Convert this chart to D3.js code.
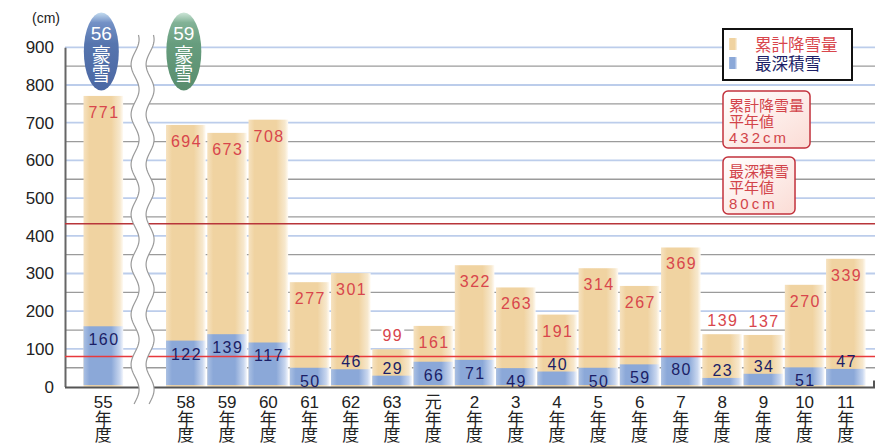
<!DOCTYPE html>
<html lang="ja">
<head>
<meta charset="utf-8">
<script src="https://cdn.jsdelivr.net/npm/d3@7"></script>
<style>
  body { margin: 0; background: #fff; }
  svg { display: block; font-family: "Liberation Sans", Arial, "Noto Sans CJK JP", sans-serif; }
</style>
</head>
<body>
<main></main>
<script>
// fiscal years (昭和55..63, 平成元..11), 56/57 are cut by the axis break
const years = ["55", "58", "59", "60", "61", "62", "63", "元", "2", "3", "4", "5", "6", "7", "8", "9", "10", "11"]
const totalSnow = [771, 694, 673, 708, 277, 301, 99, 161, 322, 263, 191, 314, 267, 369, 139, 137, 270, 339]
const deepestSnow = [160, 122, 139, 117, 50, 46, 29, 66, 71, 49, 40, 50, 59, 80, 23, 34, 51, 47]
const yTicks = [0, 100, 200, 300, 400, 500, 600, 700, 800, 900]
const gapKey = "break"
const slots = [years[0], gapKey, ...years.slice(1)]

const badgeYears = ["55", "58"]
const badgeNames = ["56", "59"]
const badgeFills = ["url(#badgeBlue)", "url(#badgeGreen)"]

const averages = [432, 80]
const avgNames = ["累計降雪量", "最深積雪"]

const red = '#d8464c'
const navy = '#1b1e66'

const width = 886, height = 443
const svg = d3.select('main').append('svg')
  .attr('width', width)
  .attr('height', height)

const x = d3.scaleBand().domain(slots).range([79.4, 869.8]).paddingInner(0.04).paddingOuter(0.1)
const y = d3.scaleLinear().domain([0, 900]).range([386.6, 47.3])
const bw = x.bandwidth()

// gradients
const defs = svg.append('defs')
function gradient(id, stops, x2, y2) {
  const g = defs.append('linearGradient').attr('id', id)
    .attr('x1', 0).attr('y1', 0).attr('x2', x2).attr('y2', y2)
  stops.forEach(s => g.append('stop').attr('offset', s[0]).attr('stop-color', s[1]))
}
gradient('tan', [[0, '#f6e2c0'], [0.15, '#f0d3a1'], [0.7, '#f0d3a1'], [0.92, '#f7e8cd'], [1, '#fffbf4']], 1, 0)
gradient('blue', [[0, '#aac0e3'], [0.15, '#8ba8d8'], [0.7, '#8ba8d8'], [0.92, '#c9d7ef'], [1, '#f3f6fc']], 1, 0)
gradient('badgeBlue', [[0, '#c4dcf0'], [0.13, '#7391c6'], [0.4, '#5675ae'], [1, '#4b67a3']], 0, 1)
gradient('badgeGreen', [[0, '#cde6d8'], [0.13, '#82b296'], [0.4, '#679d7e'], [1, '#588d6d']], 0, 1)
gradient('note', [[0, '#ffffff'], [1, '#fbdcd5']], 1, 1)

// grid: blue every 100, gray in between
svg.append('g')
  .selectAll('line')
  .data(d3.range(50, 901, 50))
  .join('line')
  .attr('x1', 65).attr('x2', 875)
  .attr('y1', d => y(d)).attr('y2', d => y(d))
  .attr('stroke', d => d % 100 ? '#9b9b9b' : '#bccdeb')
  .attr('stroke-width', d => d % 100 ? 1.3 : 1.8)

// y axis
svg.append('g')
  .attr('transform', 'translate(65,0)')
  .call(d3.axisLeft(y).tickValues(yTicks).tickSize(0).tickSizeOuter(0).tickPadding(11))
  .attr('font-family', null)
  .attr('font-size', 17)
  .call(g => g.select('.domain').attr('stroke', '#666').attr('stroke-width', 2))
  .call(g => g.selectAll('text').attr('fill', '#222'))

svg.append('text')
  .attr('x', 46).attr('y', 23)
  .attr('text-anchor', 'middle')
  .attr('font-size', 14)
  .attr('fill', '#222')
  .text('(cm)')

const bars = years.map((yr, i) => ({yr, total: totalSnow[i], deep: deepestSnow[i]}))

// bars
const barG = svg.append('g')
barG.selectAll('rect.total')
  .data(bars)
  .join('rect')
  .attr('class', 'total')
  .attr('x', d => x(d.yr))
  .attr('y', d => y(d.total))
  .attr('width', bw)
  .attr('height', d => y(0) - y(d.total))
  .attr('fill', 'url(#tan)')
barG.selectAll('rect.deep')
  .data(bars)
  .join('rect')
  .attr('class', 'deep')
  .attr('x', d => x(d.yr))
  .attr('y', d => y(d.deep))
  .attr('width', bw)
  .attr('height', d => y(0) - y(d.deep) - 1.5)
  .attr('fill', 'url(#blue)')

// bottom axis line
svg.append('line')
  .attr('x1', 65).attr('x2', 875)
  .attr('y1', y(0) + 1).attr('y2', y(0) + 1)
  .attr('stroke', '#555').attr('stroke-width', 2)
svg.append('line')
  .attr('x1', 874).attr('x2', 874)
  .attr('y1', y(0) - 6).attr('y2', y(0) + 1)
  .attr('stroke', '#555').attr('stroke-width', 2)

// average lines
svg.append('g')
  .selectAll('line')
  .data(averages)
  .join('line')
  .attr('x1', 65).attr('x2', 875)
  .attr('y1', d => y(d)).attr('y2', d => y(d))
  .attr('stroke', (d, i) => i ? '#e8393c' : '#b8353a')
  .attr('stroke-width', 1.6)

// axis break (wavy)
const bx = x(gapKey) + bw / 2 - 2
const wave = off => d3.range(35, 405, 1.5).map(v => [bx + off + 4 * Math.sin((v - 27) / 50 * 2 * Math.PI), v])
const left = wave(-7.5), right = wave(7.5)
svg.append('path')
  .attr('d', d3.line()(left.concat(right.slice().reverse())) + 'Z')
  .attr('fill', '#fff')
svg.append('g')
  .selectAll('path')
  .data([left, right])
  .join('path')
  .attr('d', d3.line())
  .attr('fill', 'none')
  .attr('stroke', '#9a9a9a')
  .attr('stroke-width', 1.2)

// value labels
const labelG = svg.append('g')
  .attr('text-anchor', 'middle')
  .attr('font-size', 16)

const totalLabels = labelG.selectAll('text.total')
  .data(bars)
  .join('text')
  .attr('class', 'total')
  .attr('x', d => x(d.yr) + bw / 2 + 0.75)
  .attr('y', d => d.total >= 150 ? y(d.total) + 22 : y(d.total) - 8)
  .attr('fill', red)
  .attr('letter-spacing', 1.5)
  .text(d => d.total)

// white patch behind labels that sit above short bars
totalLabels.filter(d => d.total < 150).each(function () {
  const b = this.getBBox()
  labelG.insert('rect', () => this)
    .attr('x', b.x - 1).attr('y', b.y + 1)
    .attr('width', b.width + 2).attr('height', b.height - 3)
    .attr('fill', '#fff')
})

labelG.selectAll('text.deep')
  .data(bars)
  .join('text')
  .attr('class', 'deep')
  .attr('x', d => x(d.yr) + bw / 2 + 0.75)
  .attr('y', d => d.deep >= 48 ? y(d.deep) + 19 : y(d.deep) - 2)
  .attr('fill', navy)
  .attr('letter-spacing', 1.5)
  .text(d => d.deep)

// x labels, stacked vertically
const xl = svg.append('g')
  .attr('text-anchor', 'middle')
  .attr('font-size', 17)
  .attr('fill', '#222')
  .selectAll('text')
  .data(years)
  .join('text')
  .attr('transform', d => `translate(${x(d) + bw / 2},408)`)
xl.append('tspan').attr('x', 0).attr('y', 0).text(d => d)
xl.append('tspan').attr('x', 0).attr('y', 16.5).text('年')
xl.append('tspan').attr('x', 0).attr('y', 33).text('度')

// heavy snow badges
const badge = svg.append('g')
  .selectAll('g')
  .data(badgeYears)
  .join('g')
  .attr('transform', d => `translate(${x(d) + bw / 2 - 2},51.5)`)
badge.append('ellipse')
  .attr('rx', 17.5).attr('ry', 39)
  .attr('fill', (d, i) => badgeFills[i])
const bt = badge.append('text')
  .attr('text-anchor', 'middle')
  .attr('fill', '#fff')
  .attr('font-size', 19)
bt.append('tspan').attr('x', 0).attr('y', -12).text((d, i) => badgeNames[i])
bt.append('tspan').attr('x', 0).attr('y', 10.5).text('豪')
bt.append('tspan').attr('x', 0).attr('y', 29.5).text('雪')

// legend
const legend = svg.append('g')
legend.append('rect')
  .attr('x', 723).attr('y', 29)
  .attr('width', 129).attr('height', 51)
  .attr('fill', '#fff')
  .attr('stroke', '#111').attr('stroke-width', 2)
legend.selectAll('rect.sw')
  .data(['url(#tan)', 'url(#blue)'])
  .join('rect')
  .attr('class', 'sw')
  .attr('x', 729).attr('y', (d, i) => 38 + i * 19)
  .attr('width', 8).attr('height', 12)
  .attr('fill', d => d)
legend.selectAll('text')
  .data(avgNames)
  .join('text')
  .attr('x', 755).attr('y', (d, i) => 51 + i * 19)
  .attr('font-size', 16.5)
  .attr('fill', (d, i) => i ? navy : red)
  .text(d => d)

// average notes
const note = svg.append('g')
  .selectAll('g')
  .data(averages)
  .join('g')
  .attr('transform', (d, i) => `translate(723,${91 + i * 66})`)
note.append('rect')
  .attr('height', 57).attr('rx', 5)
  .attr('fill', 'url(#note)')
  .attr('stroke', '#c2323c').attr('stroke-width', 1.5)
const nt = note.append('text')
  .attr('font-size', 15)
  .attr('fill', '#d2444a')
nt.append('tspan').attr('x', 6).attr('y', 19.5).text((d, i) => avgNames[i])
nt.append('tspan').attr('x', 6).attr('y', 35.5).text('平年値')
nt.append('tspan').attr('x', 6).attr('y', 51.5).attr('letter-spacing', 3).text(d => d + 'cm')
nt.each(function () {
  const w = this.getBBox().width
  d3.select(this.parentNode).select('rect').attr('width', w + 12)
})
</script>
</body>
</html>
